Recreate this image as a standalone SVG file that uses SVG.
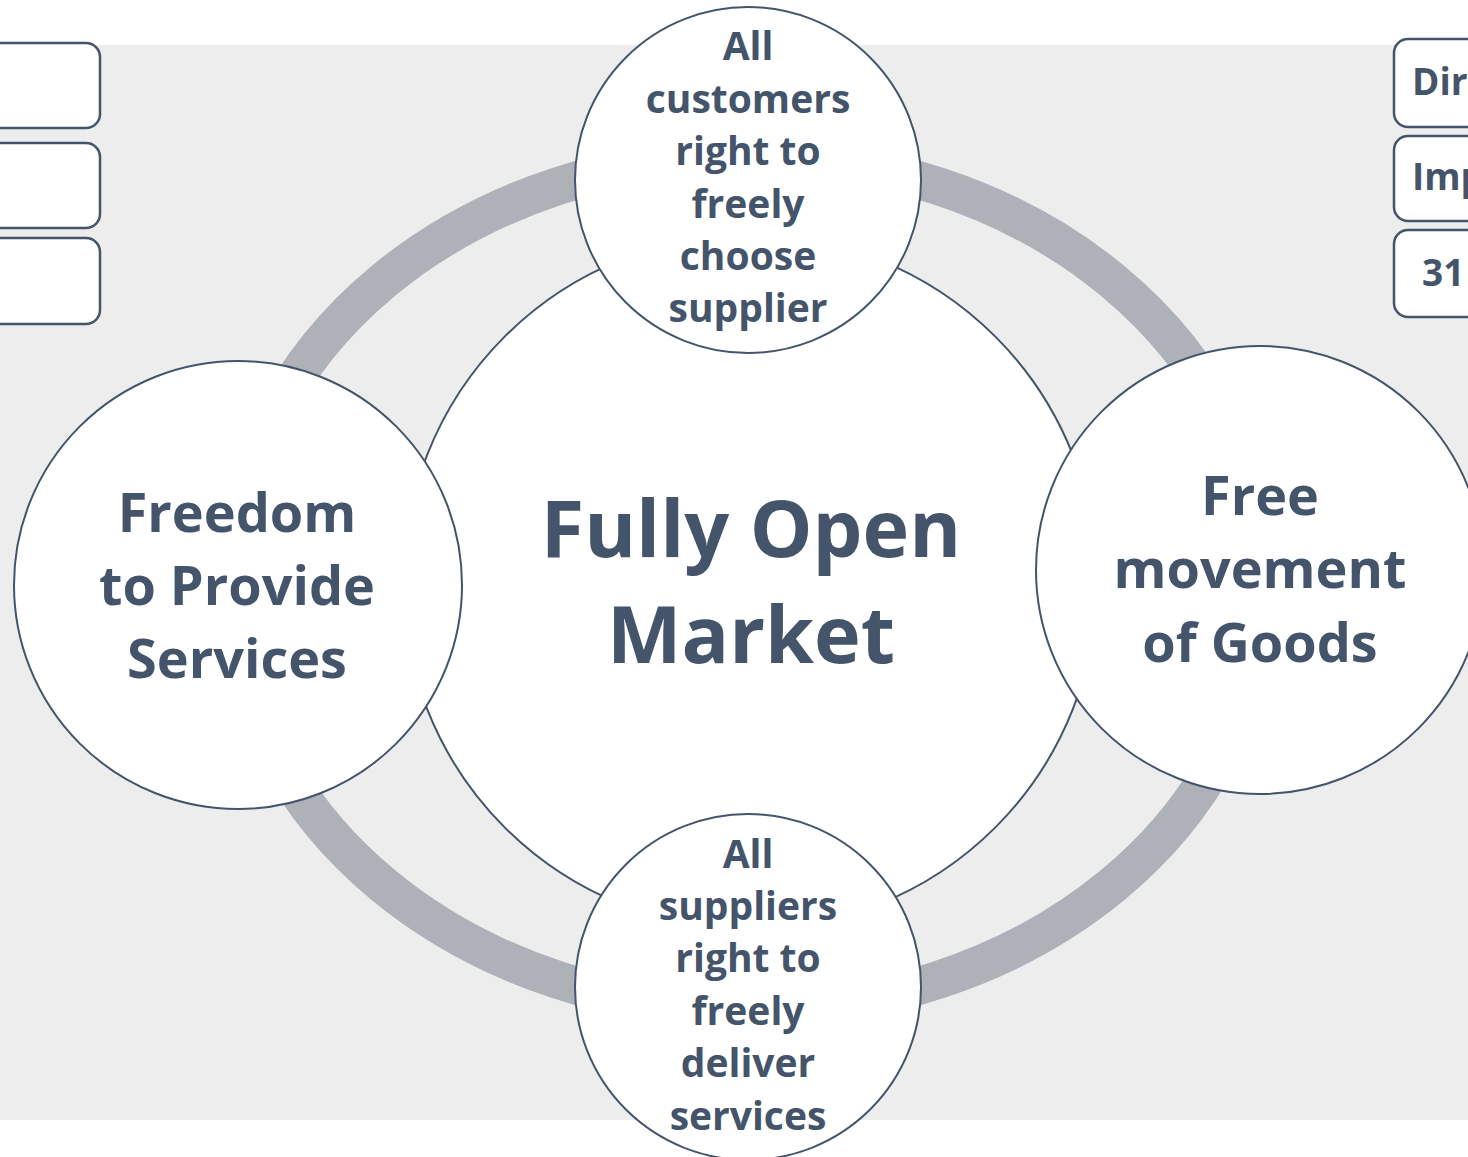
<svg xmlns="http://www.w3.org/2000/svg" width="1468" height="1157" viewBox="0 0 1468 1157">
  <style>
    .bg { fill: #EDEDED; }
    .ring { fill: none; stroke: #AEB1B8; stroke-width: 38; }
    .node { fill: #FFFFFF; stroke: #44546A; stroke-width: 2; }
    .box { fill: #FFFFFF; stroke: #44546A; stroke-width: 2.5; }
    text { font-family: "Open Sans", "Noto Sans", "Liberation Sans", sans-serif; font-weight: bold; fill: #44546A; text-anchor: middle; }
    .s { font-size: 39px; }
    .m { font-size: 54px; }
    .l { font-size: 79px; }
    .b { font-size: 37px; text-anchor: start; }
  </style>
  <rect class="bg" x="0" y="45" width="1468" height="1075"/>

  <g id="side-boxes-left">
    <rect class="box" x="-120" y="43" width="220" height="85" rx="14"/>
    <rect class="box" x="-120" y="143" width="220" height="85" rx="14"/>
    <rect class="box" x="-120" y="238" width="220" height="86" rx="14"/>
  </g>
  <g id="side-boxes-right">
    <rect class="box" x="1394" y="39" width="220" height="88" rx="14"/>
    <text class="b" x="1412" y="95">Dir</text>
    <rect class="box" x="1394" y="136" width="220" height="85" rx="14"/>
    <text class="b" x="1412" y="190">Imp</text>
    <rect class="box" x="1394" y="230" width="220" height="87" rx="14"/>
    <text class="b" x="1422" y="286">31</text>
  </g>

  <g id="connectors">
    <ellipse class="ring" cx="748" cy="583" rx="516" ry="427"/>
  </g>

  <g id="center">
    <circle class="node" cx="750" cy="582" r="347"/>
    <text class="l" x="751" y="557">Fully Open</text>
    <text class="l" x="751" y="663">Market</text>
  </g>

  <g id="top">
    <circle class="node" cx="748" cy="180" r="173"/>
    <text class="s" x="748" y="60">All</text>
    <text class="s" x="748" y="113">customers</text>
    <text class="s" x="748" y="165">right to</text>
    <text class="s" x="748" y="218">freely</text>
    <text class="s" x="748" y="270">choose</text>
    <text class="s" x="748" y="322">supplier</text>
  </g>

  <g id="left">
    <circle class="node" cx="238" cy="585" r="224"/>
    <text class="m" x="237" y="532">Freedom</text>
    <text class="m" x="237" y="605">to Provide</text>
    <text class="m" x="237" y="678">Services</text>
  </g>

  <g id="right">
    <circle class="node" cx="1260" cy="570" r="224"/>
    <text class="m" x="1260" y="515">Free</text>
    <text class="m" x="1260" y="588">movement</text>
    <text class="m" x="1260" y="662">of Goods</text>
  </g>

  <g id="bottom">
    <circle class="node" cx="748" cy="987" r="173"/>
    <text class="s" x="748" y="868">All</text>
    <text class="s" x="748" y="920">suppliers</text>
    <text class="s" x="748" y="972">right to</text>
    <text class="s" x="748" y="1025">freely</text>
    <text class="s" x="748" y="1077">deliver</text>
    <text class="s" x="748" y="1130">services</text>
  </g>
</svg>
